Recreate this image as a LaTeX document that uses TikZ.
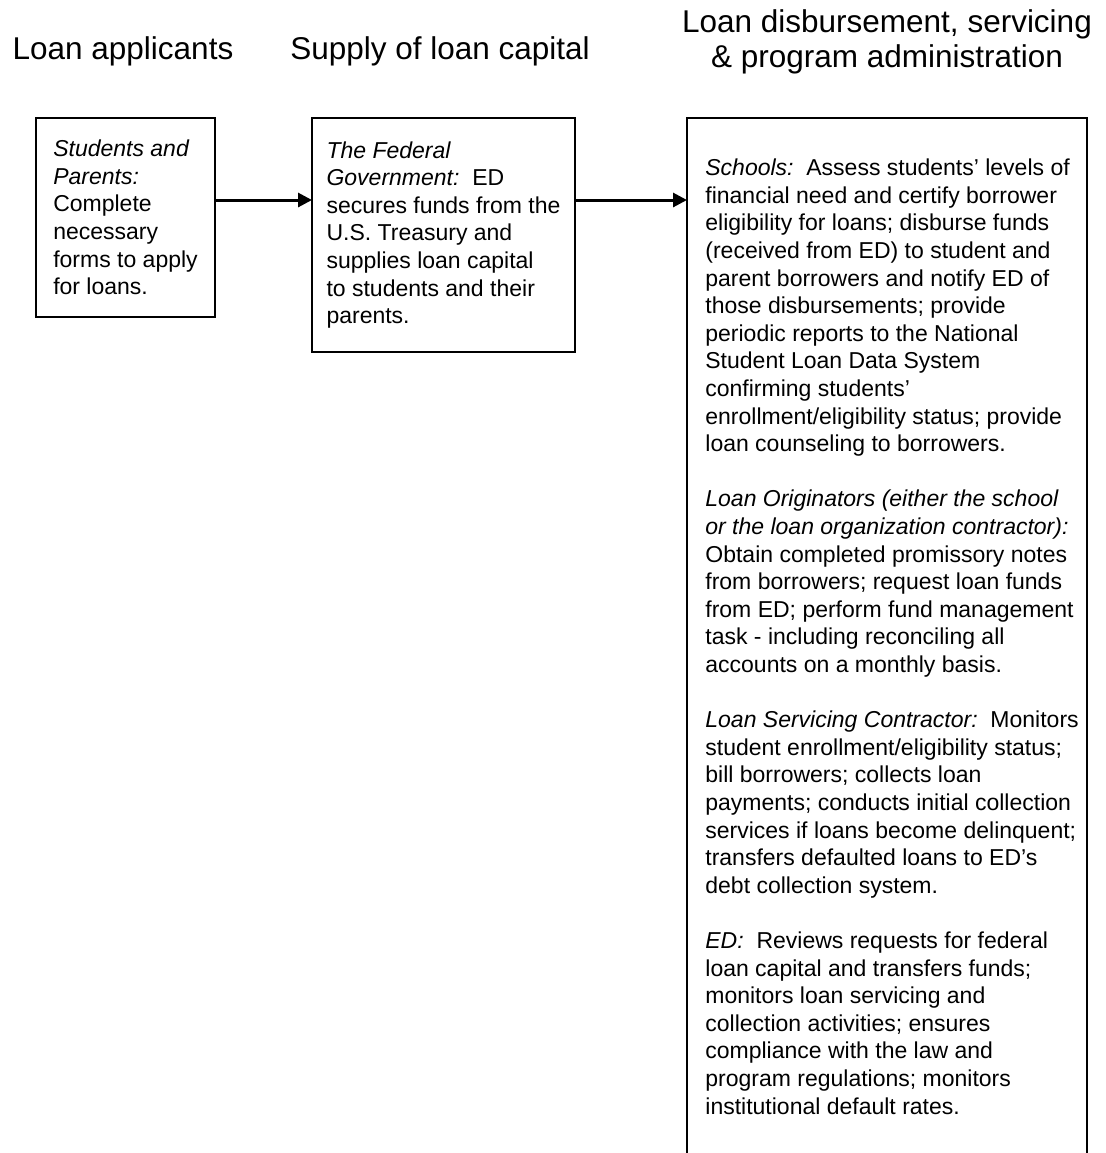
\documentclass[tikz,border=0pt]{standalone}
\usepackage{fontspec}
\setmainfont{Liberation Sans}
\usetikzlibrary{positioning, calc, arrows.meta}
\tikzset{
    headnode/.style={font=\fontsize{15.75}{17.25}\selectfont, align=center, inner sep=0pt},
    boxnode/.style={rectangle, draw, line width=0.8pt, align=left, anchor=north west, outer sep=0pt, font=\fontsize{11.5}{13.8}\selectfont},
    textnode/.style={align=left, inner sep=0pt, font=\fontsize{11.5}{13.8}\selectfont},
    openframe/.style={line width=0.8pt},
    arrow/.style={-{Triangle[length=7pt, width=7pt]}, line width=1.5pt},
}
\begin{document}
\begin{tikzpicture}[x=0.5pt, y=-0.5pt]
    \useasboundingbox (0,0) rectangle (1105,1153);
    \clip (0,0) rectangle (1105,1153);

    % Column headings
    \node[headnode, anchor=base] (headapp) at (123,59) {Loan applicants};
    \node[headnode, anchor=base] (headcap) at (440,59) {Supply of loan capital};
    \node[headnode, anchor=base] (headadm) at (887,67) {Loan disbursement, servicing\\ \& program administration};

    % Applicants and capital boxes
    \node[boxnode, minimum width=89.5pt, minimum height=99.5pt] (applicants) at (36,118)
        {\textit{Students and}\\ \textit{Parents:}\\ Complete\\ necessary\\ forms to apply\\ for loans.};
    \node[boxnode, minimum width=131.5pt, minimum height=117pt] (capital) at (312,118)
        {\textit{The Federal}\\ \textit{Government:}\ \ ED\\ secures funds from the\\ U.S. Treasury and\\ supplies loan capital\\ to students and their\\ parents.};

    % Administration box (open at the bottom)
    \draw[openframe] (687,1170) |- (1087,118) -- (1087,1170);
    \coordinate (adminin) at (687,200);
    \node[textnode, anchor=base west] (admin) at (705,1114)
        {\textit{Schools:}\ \ Assess students' levels of\\
         financial need and certify borrower\\
         eligibility for loans; disburse funds\\
         (received from ED) to student and\\
         parent borrowers and notify ED of\\
         those disbursements; provide\\
         periodic reports to the National\\
         Student Loan Data System\\
         confirming students'\\
         enrollment/eligibility status; provide\\
         loan counseling to borrowers.\\[13.8pt]
         \textit{Loan Originators (either the school}\\
         \textit{or the loan organization contractor):}\\
         Obtain completed promissory notes\\
         from borrowers; request loan funds\\
         from ED; perform fund management\\
         task - including reconciling all\\
         accounts on a monthly basis.\\[13.8pt]
         \textit{Loan Servicing Contractor:}\ \ Monitors\\
         student enrollment/eligibility status;\\
         bill borrowers; collects loan\\
         payments; conducts initial collection\\
         services if loans become delinquent;\\
         transfers defaulted loans to ED's\\
         debt collection system.\\[13.8pt]
         \textit{ED:}\ \ Reviews requests for federal\\
         loan capital and transfers funds;\\
         monitors loan servicing and\\
         collection activities; ensures\\
         compliance with the law and\\
         program regulations; monitors\\
         institutional default rates.};

    % Flow arrows
    \draw[arrow] ([yshift=-41pt]applicants.north east) -- ([yshift=-41pt]capital.north west);
    \draw[arrow] ([yshift=-41pt]capital.north east) -- (adminin);
\end{tikzpicture}
\end{document}
